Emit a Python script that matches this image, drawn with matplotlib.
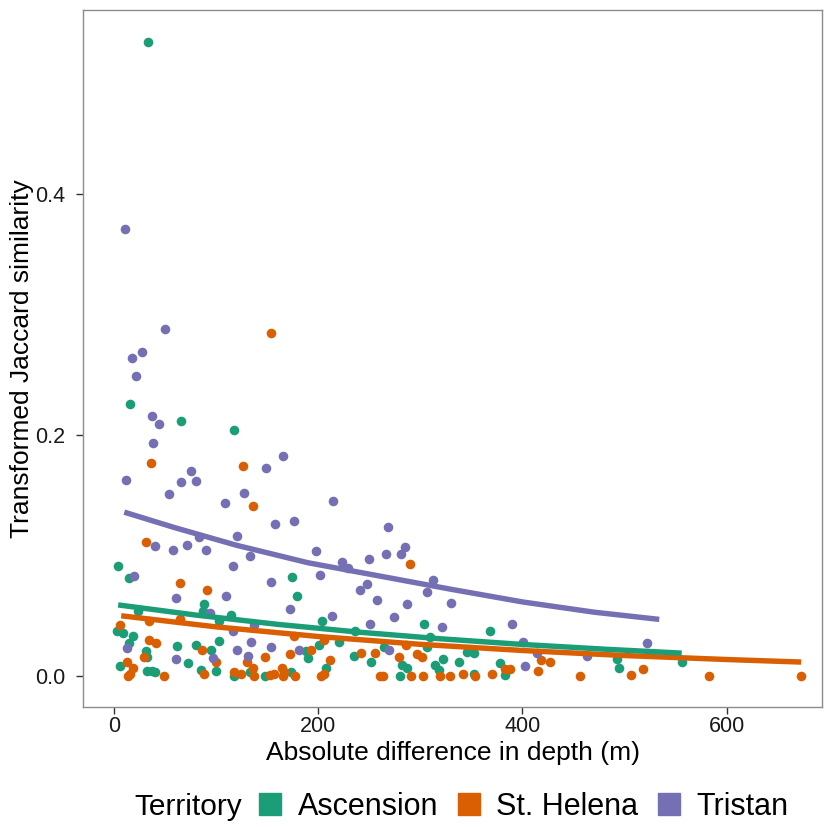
import matplotlib
matplotlib.use("Agg")
import matplotlib.pyplot as plt
from matplotlib.lines import Line2D

plt.rcParams['font.family'] = ['Liberation Sans', 'DejaVu Sans']

# ---------------- data ----------------
territories = ["Ascension", "St. Helena", "Tristan"]
colors = ["#1B9E77", "#D95F02", "#7570B3"]

asc_x = [33.3, 15.7, 65.6, 117.5, 3.9, 14.7, 88.1, 174.3, 179.2, 23.5, 87.2, 114.6,
         203.7, 102.8, 2.9, 8.8, 236.0, 18.6, 14.7, 61.7, 80.3, 95.0, 102.8, 188.0,
         190.0, 200.8, 220.4, 235.0, 251.7, 31.3, 32.3, 5.9, 32.3, 37.2, 40.2, 72.5,
         85.2, 99.9, 117.5, 133.2, 147.9, 173.4, 207.6, 303.6, 368.3, 309.5, 306.6,
         264.4, 322.2, 337.9, 314.4, 318.3, 282.1, 287.0, 280.1, 345.7, 352.6, 352.6,
         378.1, 383.0, 492.7, 494.6, 556.3]
asc_y = [0.526, 0.226, 0.212, 0.204, 0.091, 0.081, 0.060, 0.082, 0.066, 0.054, 0.054, 0.051,
         0.046, 0.046, 0.037, 0.036, 0.037, 0.033, 0.027, 0.025, 0.026, 0.022, 0.029, 0.021,
         0.015, 0.026, 0.028, 0.017, 0.012, 0.021, 0.016, 0.008, 0.004, 0.004, 0.003, 0.011,
         0.005, 0.004, 0.000, 0.003, 0.000, 0.003, 0.007, 0.043, 0.037, 0.032, 0.024,
         0.024, 0.014, 0.012, 0.009, 0.005, 0.009, 0.007, 0.000, 0.020, 0.019, 0.002,
         0.011, 0.001, 0.014, 0.007, 0.012]

sth_x = [153.8, 36.2, 126.3, 136.1, 31.3, 64.6, 91.1, 34.3, 64.6, 5.9, 176.3, 205.7,
         34.3, 41.1, 86.2, 172.4, 193.0, 241.9, 255.6, 29.4, 12.7, 18.6, 15.7, 13.7,
         49.0, 99.9, 88.1, 117.5, 124.4, 130.3, 136.1, 137.1, 147.9, 152.8, 156.7,
         164.5, 166.5, 165.5, 177.3, 202.7, 205.7, 211.6, 260.5, 289.9, 263.5, 279.1,
         286.0, 296.8, 301.7, 290.9, 302.6, 319.3, 329.1, 341.8, 353.6, 370.2, 383.0,
         387.9, 415.3, 418.2, 427.0, 456.4, 506.4, 518.1, 582.8, 672.9]
sth_y = [0.285, 0.177, 0.174, 0.141, 0.111, 0.077, 0.071, 0.046, 0.047, 0.042, 0.033, 0.030,
         0.030, 0.027, 0.022, 0.018, 0.022, 0.019, 0.019, 0.016, 0.012, 0.007, 0.002, 0.000,
         0.000, 0.012, 0.002, 0.003, 0.002, 0.012, 0.007, 0.000, 0.016, 0.001, 0.002,
         0.007, 0.003, 0.000, 0.000, 0.000, 0.002, 0.013, 0.000, 0.093, 0.000, 0.016,
         0.026, 0.018, 0.016, 0.000, 0.000, 0.000, 0.000, 0.002, 0.000, 0.002, 0.006,
         0.006, 0.004, 0.013, 0.012, 0.000, 0.001, 0.006, 0.000, 0.000]

tri_x = [10.8, 50.0, 17.6, 27.4, 21.5, 37.2, 44.1, 38.2, 11.8, 75.4, 65.6, 80.3, 53.9,
         148.9, 165.5, 108.7, 127.3, 214.5, 157.7, 176.3, 120.5, 83.3, 40.2, 57.8, 71.5,
         90.1, 197.8, 268.4, 285.0, 133.2, 223.3, 229.2, 249.8, 19.6, 116.6, 60.7, 109.7,
         153.8, 201.8, 240.9, 247.8, 257.6, 172.4, 94.0, 213.5, 137.1, 250.7, 116.6,
         12.7, 120.5, 134.2, 131.2, 153.8, 181.2, 60.7, 97.0, 266.4, 281.1, 312.4, 306.6,
         330.1, 287.0, 274.2, 321.3, 389.8, 400.6, 414.3, 269.3, 402.5, 463.3, 522.0]
tri_y = [0.371, 0.288, 0.264, 0.269, 0.249, 0.216, 0.209, 0.193, 0.163, 0.170, 0.161, 0.162, 0.151,
         0.173, 0.183, 0.144, 0.152, 0.145, 0.126, 0.129, 0.116, 0.115, 0.108, 0.105, 0.109,
         0.105, 0.104, 0.124, 0.107, 0.100, 0.095, 0.090, 0.097, 0.083, 0.091, 0.065, 0.066,
         0.078, 0.084, 0.071, 0.076, 0.063, 0.056, 0.052, 0.050, 0.042, 0.043, 0.037,
         0.023, 0.022, 0.028, 0.017, 0.024, 0.022, 0.014, 0.015, 0.101, 0.101, 0.080, 0.070,
         0.061, 0.060, 0.049, 0.041, 0.043, 0.028, 0.019, 0.022, 0.008, 0.017, 0.027]

# fitted curves
asc_fit_x = [4, 80, 160, 240, 320, 400, 480, 556]
asc_fit_y = [0.059, 0.0506, 0.0429, 0.0364, 0.0309, 0.0262, 0.0223, 0.019]
sth_fit_x = [7, 100, 200, 300, 400, 500, 600, 673]
sth_fit_y = [0.050, 0.0408, 0.0328, 0.0263, 0.0212, 0.0170, 0.0137, 0.0116]
tri_fit_x = [10, 60, 120, 190, 260, 330, 400, 470, 534]
tri_fit_y = [0.136, 0.123, 0.1085, 0.094, 0.083, 0.072, 0.0615, 0.053, 0.047]

x_ticks = [0, 200, 400, 600]
y_ticks = [0.0, 0.2, 0.4]
y_tick_labels = ["0.0", "0.2", "0.4"]
x_label = "Absolute difference in depth (m)"
y_label = "Transformed Jaccard similarity"
legend_title = "Territory"

# ---------------- plot ----------------
fig = plt.figure(figsize=(8.24, 8.27), dpi=100)
ax = fig.add_axes([83 / 824, 1 - 707 / 827, (822 - 83) / 824, (707 - 10) / 827])

pts = [(asc_x, asc_y), (sth_x, sth_y), (tri_x, tri_y)]
fits = [(asc_fit_x, asc_fit_y), (sth_fit_x, sth_fit_y), (tri_fit_x, tri_fit_y)]

for (xs, ys), c in zip(pts, colors):
    ax.scatter(xs, ys, s=48, color=c, linewidths=0, zorder=2)
for i in [1, 0, 2]:
    fx, fy = fits[i]
    ax.plot(fx, fy, color=colors[i], lw=3.9, solid_capstyle='butt', zorder=3)

ax.set_xlim(-30.4, 693.4)
ax.set_ylim(-0.0257, 0.5527)
ax.set_xticks(x_ticks)
ax.set_yticks(y_ticks)
ax.set_yticklabels(y_tick_labels)
ax.tick_params(axis='both', labelsize=15.5, length=5, width=1, color='#333333',
               labelcolor='#1a1a1a')
ax.tick_params(axis='x', pad=1.5)
ax.tick_params(axis='y', pad=8)
for sp in ax.spines.values():
    sp.set_color('#8c8c8c')
    sp.set_linewidth(1.0)

ax.set_xlabel(x_label, fontsize=19, color='black', labelpad=3)
ax.set_ylabel(y_label, fontsize=19, color='black')
ax.yaxis.set_label_coords(-0.066, 0.5)

# legend at bottom with title on the left
handles = [Line2D([], [], marker='s', linestyle='none', markersize=16,
                  markerfacecolor=c, markeredgecolor=c) for c in colors]
fig.text(134 / 824, 1 - 807 / 827, legend_title, fontsize=21.5, va='center', ha='left')
leg = fig.legend(handles, territories, ncol=3, loc='center left',
                 bbox_to_anchor=(258 / 824, 1 - 807 / 827), frameon=False,
                 fontsize=22, handlelength=0.8, handletextpad=0.5,
                 columnspacing=0.6, borderaxespad=0, borderpad=0)

fig.savefig("out.png", dpi=100)
